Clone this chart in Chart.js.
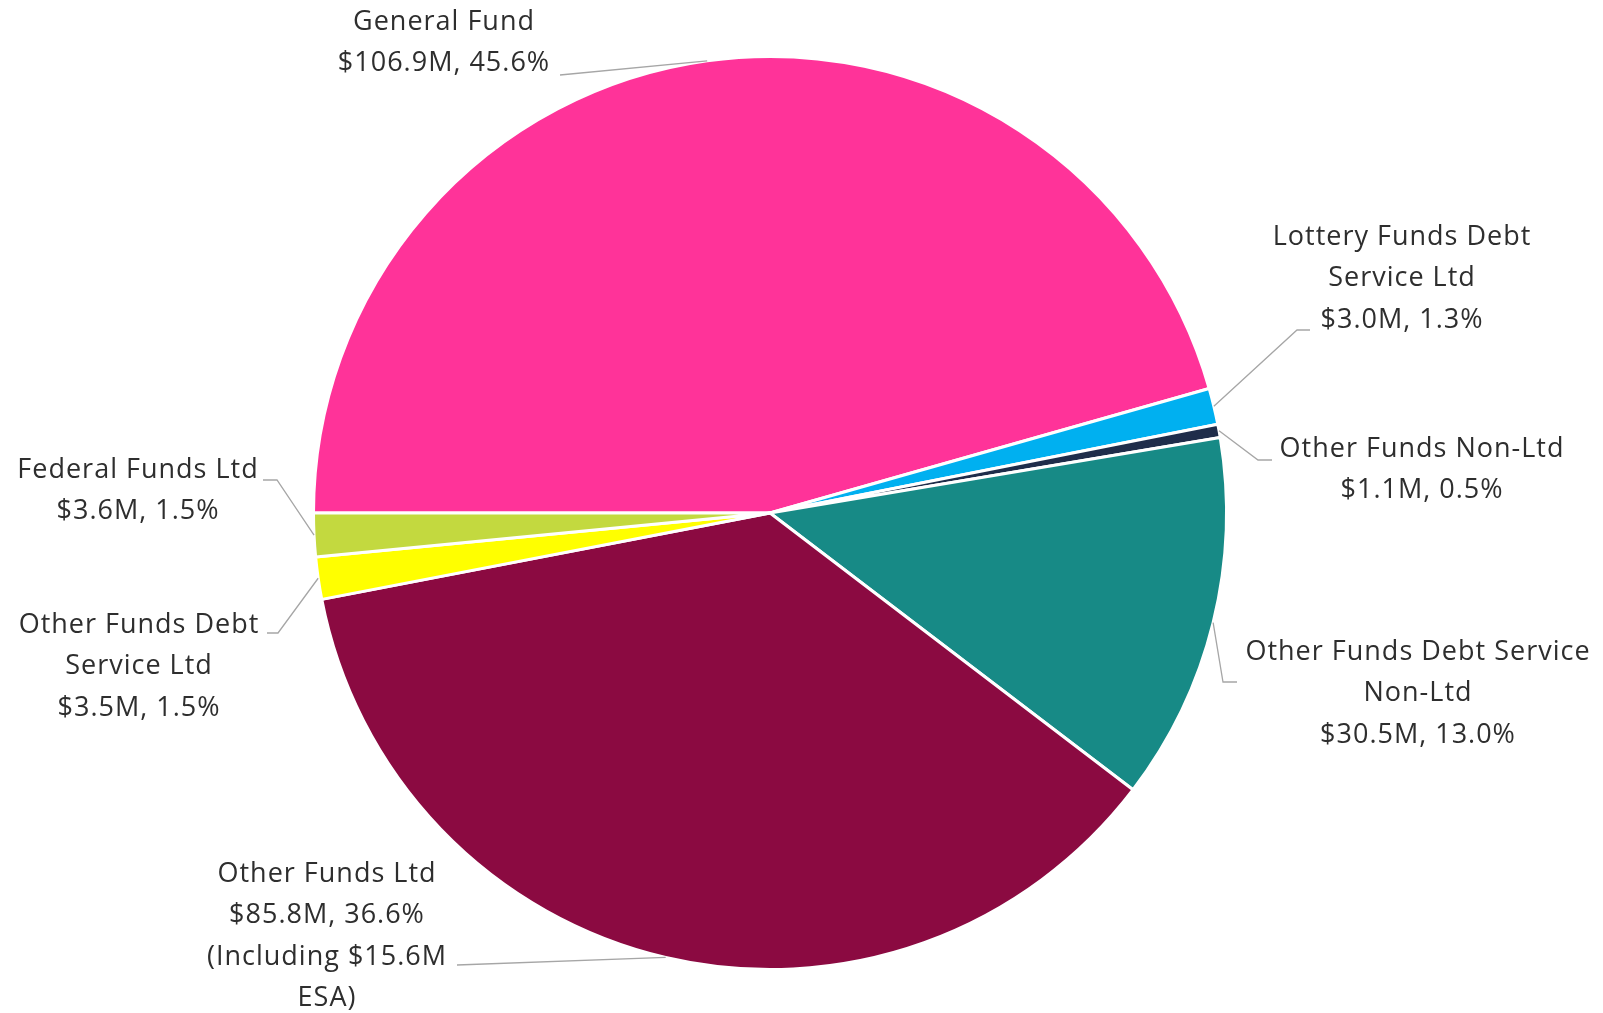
<!DOCTYPE html>
<html lang="en">
<head>
<meta charset="UTF-8">
<title>Funds pie</title>
<style>
  html, body { margin: 0; padding: 0; background: #fff; }
  #wrap { width: 1603px; height: 1013px; }
</style>
</head>
<body>
<div id="wrap"><canvas id="pie"></canvas></div>

<script src="https://cdn.jsdelivr.net/npm/chart.js@4/dist/chart.umd.min.js"></script>
<script>
  // data, clockwise from 9 o'clock
  const categories = [
    ['General Fund'],
    ['Lottery Funds Debt', 'Service Ltd'],
    ['Other Funds Non-Ltd'],
    ['Other Funds Debt Service', 'Non-Ltd'],
    ['Other Funds Ltd'],
    ['Other Funds Debt', 'Service Ltd'],
    ['Federal Funds Ltd']
  ];
  const amounts = [106.9, 3.0, 1.1, 30.5, 85.8, 3.5, 3.6];   // $M
  const percents = [45.6, 1.3, 0.5, 13.0, 36.6, 1.5, 1.5];
  const notes = [[], [], [], [], ['(Including $15.6M', 'ESA)'], [], []];

  const colors = ['#FF3399', '#00B0F0', '#1F2D4A', '#178A86', '#8B0A41', '#FFFF00', '#C3D93F'];

  // where each label block sits: centre x, first line y, elbow points of the leader
  const labelLayout = [
    { x: 444, y: 22, line: [[560, 75]] },
    { x: 1402, y: 237, line: [[1310, 330], [1297, 330]] },
    { x: 1422, y: 449, line: [[1272, 460], [1258, 460]] },
    { x: 1418, y: 652, line: [[1237, 682], [1223, 682]] },
    { x: 327, y: 874, line: [[457, 965]] },
    { x: 139, y: 625, line: [[267, 633], [278, 633]] },
    { x: 138, y: 470, line: [[263, 480], [277, 480]] }
  ];
  const lineGap = 41.5;

  const labelPlugin = {
    id: 'outsideLabels',
    afterDatasetsDraw(chart) {
      const ctx = chart.ctx;
      const arcs = chart.getDatasetMeta(0).data;
      ctx.save();
      ctx.font = '27px "Open Sans", sans-serif';
      ctx.letterSpacing = '1px';
      ctx.fillStyle = '#2e2e2e';
      ctx.textAlign = 'center';
      ctx.textBaseline = 'middle';
      arcs.forEach((arc, i) => {
        const p = arc.getProps(['x', 'y', 'startAngle', 'endAngle', 'outerRadius'], true);
        const mid = (p.startAngle + p.endAngle) / 2;
        const ex = p.x + Math.cos(mid) * p.outerRadius;
        const ey = p.y + Math.sin(mid) * p.outerRadius;
        const lay = labelLayout[i];

        ctx.strokeStyle = '#a6a6a6';
        ctx.lineWidth = 1.3;
        ctx.beginPath();
        ctx.moveTo(lay.line[0][0], lay.line[0][1]);
        for (let k = 1; k < lay.line.length; k++) ctx.lineTo(lay.line[k][0], lay.line[k][1]);
        ctx.lineTo(ex, ey);
        ctx.stroke();

        const lines = categories[i].concat(['$' + amounts[i].toFixed(1) + 'M, ' + percents[i].toFixed(1) + '%'], notes[i]);
        lines.forEach((t, k) => ctx.fillText(t, lay.x, lay.y + k * lineGap));
      });
      ctx.restore();
    }
  };

  new Chart(document.getElementById('pie'), {
    type: 'pie',
    data: {
      labels: categories.map(c => c.join(' ')),
      datasets: [{
        data: amounts,
        backgroundColor: colors,
        borderColor: '#ffffff',
        borderWidth: 3
      }]
    },
    options: {
      responsive: true,
      maintainAspectRatio: false,
      animation: false,
      rotation: -90,
      layout: { padding: { top: 55, bottom: 42, left: 0, right: 63 } },
      plugins: {
        legend: { display: false },
        tooltip: { enabled: false }
      }
    },
    plugins: [labelPlugin]
  });
</script>
</body>
</html>
